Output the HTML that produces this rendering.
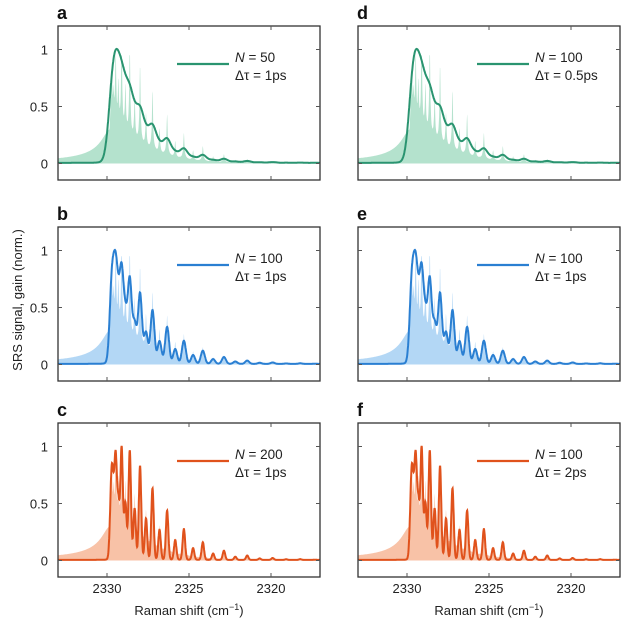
<!DOCTYPE html>
<html><head><meta charset="utf-8"><style>
html,body{margin:0;padding:0;background:#fff;}
svg{display:block;font-family:"Liberation Sans",sans-serif;}
</style></head><body>
<svg id="s" width="639" height="625" viewBox="0 0 639 625" xmlns="http://www.w3.org/2000/svg"></svg>
<script>
const S=document.getElementById('s');let h='';
const cols=[58,358], rows=[26,227,423], W=262, H=154;
const panels=[
 {c:0,r:0,l:'a',N:'50',t:'1ps',g:0.24,lc:'#2a9470',fc:'#b4e2cd'},
 {c:0,r:1,l:'b',N:'100',t:'1ps',g:0.12,lc:'#2a7fd2',fc:'#b3d7f5'},
 {c:0,r:2,l:'c',N:'200',t:'1ps',g:0.075,lc:'#e0521c',fc:'#f8c2a7'},
 {c:1,r:0,l:'d',N:'100',t:'0.5ps',g:0.24,lc:'#2a9470',fc:'#b4e2cd'},
 {c:1,r:1,l:'e',N:'100',t:'1ps',g:0.12,lc:'#2a7fd2',fc:'#b3d7f5'},
 {c:1,r:2,l:'f',N:'100',t:'2ps',g:0.075,lc:'#e0521c',fc:'#f8c2a7'}];
const lines=[];
for(let J=0;J<34;J++){const nu=2329.8-0.0165*J*(J+1);const w=(J%2?1:2)*(2*J+1)*Math.exp(-2*J*(J+1)/208);lines.push([nu,w]);}
function sig(nu,g){let s=0;for(const [c,w] of lines){const d=nu-c;s+=w*(Math.exp(-d*d/(2*g*g))+0.04*g*g/(d*d+g*g));}return s;}
function gain(nu){let s=0;for(const [c,w] of lines){const d=nu-c;s+=w*0.0016/(d*d+0.0016);}return s;}
function env(nu){let s=0;for(const [c,w] of lines){const d=nu-c;s+=w*0.09/(d*d+0.09);}return s;}
const N0=[];for(let i=0;i<=1200;i++)N0.push(2333-16.2*i/1200);
for(const p of panels){
 const x0=cols[p.c],top=rows[p.r];
 const X=nu=>x0+49+(2330-nu)*16.4, Y=v=>top+137.5-v*114;
 let sv=N0.map(n=>sig(n,p.g));let m=Math.max(...sv);sv=sv.map(v=>v/m);
 let gv=N0.map(n=>gain(n));let gm=Math.max(...gv);
 let ev=N0.map(n=>env(n));let em=Math.max(...ev);
 let fv=N0.map((n,i)=>{let v=Math.min(1,0.95*gv[i]/gm)*0.85+0.3*ev[i]/em; if(n>2329.8){v=Math.max(v,0.3/Math.sqrt(1+((n-2329.8)/0.5)**2));} return Math.min(v,0.95);});
 h+=`<defs><clipPath id="c${p.l}"><rect x="${x0}" y="${top}" width="${W}" height="${H}"/></clipPath></defs><g clip-path="url(#c${p.l})">`;
 let fp='M'+X(2333)+','+Y(0);N0.forEach((n,i)=>fp+='L'+X(n).toFixed(1)+','+Y(fv[i]).toFixed(1));fp+='L'+X(N0[N0.length-1])+','+Y(0)+'Z';
 h+=`<path d="${fp}" fill="${p.fc}"/>`;
 let lp='';N0.forEach((n,i)=>lp+=(i?'L':'M')+X(n).toFixed(1)+','+Y(sv[i]+0.005).toFixed(1));
 h+=`<path d="${lp}" fill="none" stroke="${p.lc}" stroke-width="2"/></g>`;
 h+=`<rect x="${x0}" y="${top}" width="${W}" height="${H}" fill="none" stroke="#333" stroke-width="1.3"/>`;
 for(const v of [0,0.5,1]){h+=`<line x1="${x0}" x2="${x0+4}" y1="${Y(v)}" y2="${Y(v)}" stroke="#555"/><line x1="${x0+W-4}" x2="${x0+W}" y1="${Y(v)}" y2="${Y(v)}" stroke="#555"/>`;
  if(p.c==0)h+=`<text x="${x0-10}" y="${Y(v)+5}" font-size="13" text-anchor="end" fill="#222">${v}</text>`;}
 for(const t of [2330,2325,2320]){h+=`<line x1="${X(t)}" x2="${X(t)}" y1="${top}" y2="${top+4}" stroke="#555"/><line x1="${X(t)}" x2="${X(t)}" y1="${top+H-4}" y2="${top+H}" stroke="#555"/>`;
  if(p.r==2)h+=`<text x="${X(t)}" y="${top+H+16}" font-size="13" text-anchor="middle" fill="#222">${t}</text>`;}
 h+=`<text x="${x0-1}" y="${top-7}" font-size="18" font-weight="bold" fill="#111">${p.l}</text>`;
 h+=`<line x1="${x0+119}" x2="${x0+171}" y1="${top+38}" y2="${top+38}" stroke="${p.lc}" stroke-width="2.2"/>`;
 h+=`<text x="${x0+177}" y="${top+36}" font-size="13.5" fill="#222"><tspan font-style="italic">N</tspan> = ${p.N}</text>`;
 h+=`<text x="${x0+177}" y="${top+54}" font-size="13.5" fill="#222">Δτ = ${p.t}</text>`;
 if(p.r==2)h+=`<text x="${x0+131}" y="${top+H+38}" font-size="13" text-anchor="middle" fill="#222">Raman shift (cm<tspan dy="-5" font-size="9">−1</tspan><tspan dy="5">)</tspan></text>`;
}
h+=`<text transform="translate(22,300) rotate(-90)" font-size="13" text-anchor="middle" fill="#222">SRS signal, gain (norm.)</text>`;
S.innerHTML=h;
</script>
</body></html>
